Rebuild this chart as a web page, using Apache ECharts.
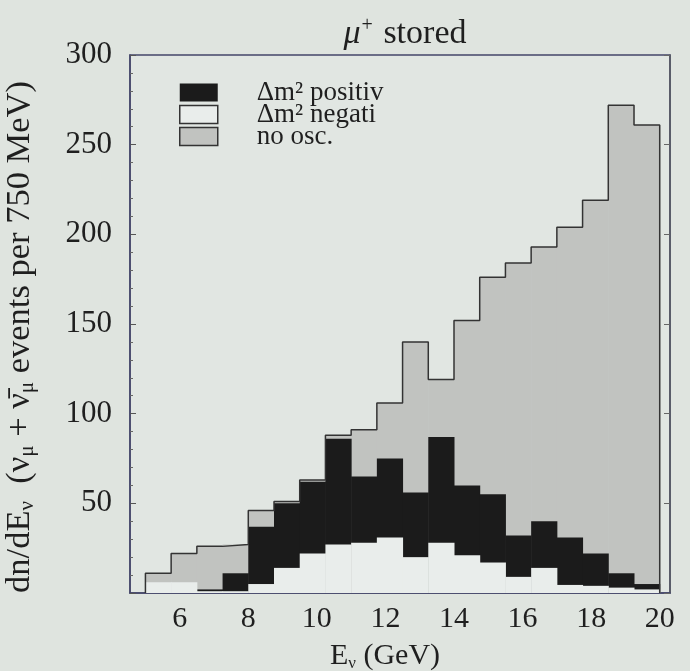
<!DOCTYPE html>
<html>
<head>
<meta charset="utf-8">
<script src="https://cdn.jsdelivr.net/npm/echarts@6/dist/echarts.min.js"></script>
<style>
html,body{margin:0;padding:0;background:#dfe4df;}
#chart{width:690px;height:671px;}
</style>
</head>
<body>
<div id="chart"></div>
<script>
// bin lower / upper edges in GeV (750 MeV bins)
var binLow  = [5, 5.75, 6.5, 7.25, 8, 8.75, 9.5, 10.25, 11, 11.75, 12.5, 13.25, 14, 14.75, 15.5, 16.25, 17, 17.75, 18.5, 19.25];
var binHigh = [5.75, 6.5, 7.25, 8, 8.75, 9.5, 10.25, 11, 11.75, 12.5, 13.25, 14, 14.75, 15.5, 16.25, 17, 17.75, 18.5, 19.25, 20];
// events per bin
var noOsc    = [11, 22, 26, 27, 46, 51, 63, 88, 91, 106, 140, 119, 152, 176, 184, 193, 204, 219, 272, 261];
var positive = [0, 0, 2, 11, 37, 50, 62, 86, 65, 75, 56, 87, 60, 55, 32, 40, 31, 22, 11, 5];
var negative = [6, 6, 1, 1, 5, 14, 22, 27, 28, 31, 20, 28, 21, 17, 9, 14, 4.5, 4, 3, 2];
var xTicks = [6, 8, 10, 12, 14, 16, 18, 20];
var yTicks = [0, 50, 100, 150, 200, 250, 300];
var seriesNames = ['Δm² positiv', 'Δm² negati', 'no osc.'];

function rows(vals){
  return vals.map(function(v,i){ return [binLow[i], binHigh[i], v]; });
}
function stepLine(vals){
  var pts = [[binLow[0], 0]];
  vals.forEach(function(v,i){ pts.push([binLow[i], v]); });
  pts.push([binHigh[binHigh.length-1], vals[vals.length-1]]);
  pts.push([binHigh[binHigh.length-1], 0]);
  return pts;
}
function makeRender(fill){
  return function(params, api){
    var p0 = api.coord([api.value(0), api.value(2)]);
    var p1 = api.coord([api.value(1), 0]);
    return {type:'rect', shape:{x:p0[0], y:p0[1], width:p1[0]-p0[0]+0.5, height:p1[1]-p0[1]},
            style:{fill: fill}};
  };
}
var serif = '"Liberation Serif", "DejaVu Serif", serif';
var INK = '#1f1f1f';
var FILL_GRAY = '#c1c3c0', FILL_BLACK = '#1b1b1b', FILL_WHITE = '#e9edeb';

var chart = echarts.init(document.getElementById('chart'));
chart.setOption({
  backgroundColor: '#dfe4df',
  animation: false,
  textStyle: {fontFamily: serif, color: INK},
  title: {
    text: '{i|μ}{p|+} stored',
    left: 400, top: 11, textAlign: 'center',
    textStyle: {fontFamily: serif, fontSize: 34, fontWeight:'normal', color: INK,
      rich: {
        i: {fontFamily: serif, fontSize: 34, fontStyle:'italic', color: INK},
        p: {fontFamily: serif, fontSize: 20, color: INK, padding:[0,2,17,1]}
      }}
  },
  legend: {
    orient: 'vertical', left: 174, top: 74,
    itemWidth: 38, itemHeight: 18, itemGap: -5,
    icon: 'rect',
    data: [
      {name: seriesNames[0], itemStyle:{color: FILL_BLACK}},
      {name: seriesNames[1], itemStyle:{color: FILL_WHITE, borderColor:'#333', borderWidth:1.5}},
      {name: seriesNames[2], itemStyle:{color: FILL_GRAY, borderColor:'#333', borderWidth:1.5}}
    ],
    textStyle: {fontFamily: serif, fontSize: 27, color: INK, padding:[0,0,0,34]}
  },
  grid: {left: 130, right: 20, top: 55, bottom: 78, show: true, outerBoundsMode: 'none',
         containLabel: false,
         backgroundColor: '#e1e6e2', borderColor: '#44466a', borderWidth: 1.5},
  xAxis: {
    type: 'value', min: 4.55, max: 20.3,
    name: 'E{s|ν} (GeV)', nameLocation: 'middle', nameGap: 48,
    nameTextStyle: {fontFamily: serif, fontSize: 30, color: INK, padding:[0,30,0,0],
      rich: {s: {fontFamily: serif, fontSize: 17, color: INK, padding:[14,0,0,0]}}},
    axisLine: {show: true, lineStyle:{color:'#44466a', width:1.5}},
    axisTick: {show: false},
    splitLine: {show: false},
    axisLabel: {customValues: xTicks, fontFamily: serif, fontSize: 30, color: INK, margin: 11}
  },
  yAxis: [{
    type: 'value', min: 0, max: 300, interval: 50,
    name: 'dn/dE{s|ν}  (ν{s|μ} + ν̄{s|μ} events per 750 MeV)',
    nameLocation: 'middle', nameGap: 92, nameRotate: 90,
    nameTextStyle: {fontFamily: serif, fontSize: 34.5, color: INK, padding:[0,26,0,0],
      rich: {s: {fontFamily: serif, fontSize: 21, color: INK, padding:[15,0,0,0]}}},
    axisLine: {show: true, lineStyle:{color:'#44466a', width:1.5}},
    axisTick: {show: true, inside: true, length: 6, lineStyle:{color:'#555'}},
    minorTick: {show: true, splitNumber: 5, length: 3, lineStyle:{color:'#666'}},
    splitLine: {show: false},
    axisLabel: {fontFamily: serif, fontSize: 31, color: INK, margin: 18,
      formatter: function(v){ return v === 0 ? '' : String(v); }}
  }, {
    type: 'value', min: 0, max: 300, interval: 50, position: 'right',
    axisLine: {show: true, lineStyle:{color:'#55575f', width:1.5}},
    axisTick: {show: true, inside: true, length: 6, lineStyle:{color:'#666'}},
    axisLabel: {show: false}, splitLine: {show: false}
  }],
  series: [
    {name: seriesNames[2], type: 'custom', renderItem: makeRender(FILL_GRAY),
     encode: {x:[0,1], y:2}, data: rows(noOsc), itemStyle:{color: FILL_GRAY}},
    {name: seriesNames[0], type: 'custom', renderItem: makeRender(FILL_BLACK),
     encode: {x:[0,1], y:2}, data: rows(positive), itemStyle:{color: FILL_BLACK}},
    {name: seriesNames[1], type: 'custom', renderItem: makeRender(FILL_WHITE),
     encode: {x:[0,1], y:2}, data: rows(negative), itemStyle:{color: FILL_WHITE}},
    {name: 'no osc. outline', type: 'line', step: 'end', symbol: 'none', silent: true,
     data: stepLine(noOsc), lineStyle: {color:'#333', width: 1.5}, z: 5}
  ]
});
</script>
</body>
</html>
